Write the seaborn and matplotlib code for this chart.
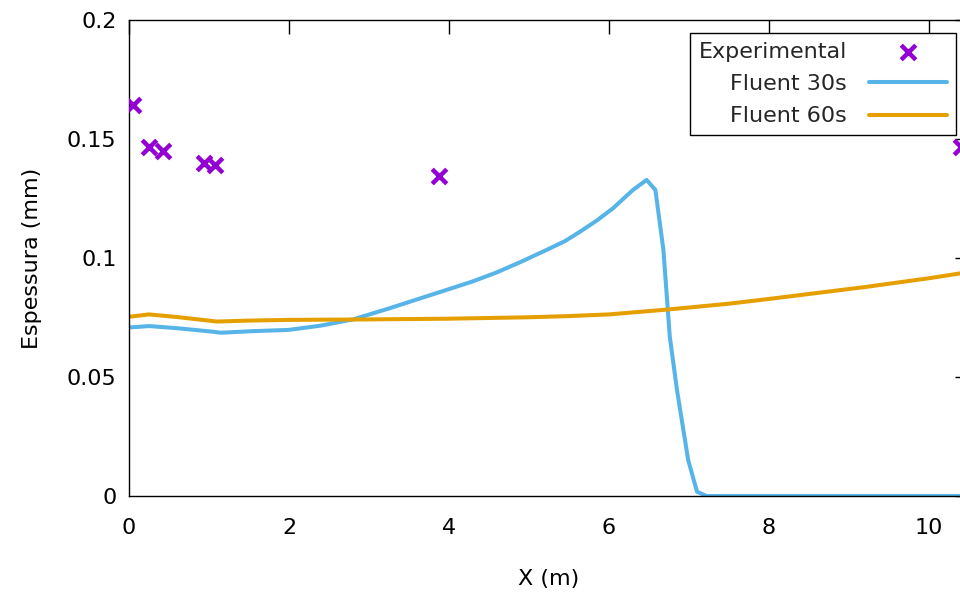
import matplotlib
matplotlib.use("Agg")
import matplotlib.pyplot as plt
import seaborn as sns

# experimental points
exp_x = [0.05, 0.25, 0.43, 0.94, 1.07, 3.87, 10.4]
exp_y = [0.1643, 0.1468, 0.1448, 0.1399, 0.1389, 0.1343, 0.1466]

# Fluent 30s
f30_x = [0.0, 0.25, 0.6, 1.0, 1.15, 1.5, 2.0, 2.4, 2.8, 3.26, 3.6, 3.97, 4.3,
         4.6, 4.9, 5.22, 5.45, 5.64, 5.85, 6.05, 6.3, 6.47, 6.58, 6.68, 6.76,
         6.85, 6.99, 7.1, 7.22, 8.0, 9.0, 10.0, 10.5]
f30_y = [0.0708, 0.0714, 0.0705, 0.0692, 0.0686, 0.0692, 0.0698, 0.0716, 0.0742,
         0.0789, 0.0826, 0.0866, 0.0902, 0.0940, 0.0984, 0.1034, 0.1071, 0.1111,
         0.1158, 0.1209, 0.1286, 0.1328, 0.1286, 0.1034, 0.0669, 0.0445, 0.0151,
         0.0018, 0.0, 0.0, 0.0, 0.0, 0.0]

# Fluent 60s
f60_x = [0.0, 0.25, 0.6, 1.1, 1.5, 2.0, 3.0, 4.0, 5.0, 5.5, 6.0, 6.75, 7.5, 8.0,
         9.2, 10.0, 10.5]
f60_y = [0.0753, 0.0763, 0.0752, 0.0733, 0.0737, 0.0740, 0.0742, 0.0745, 0.0751,
         0.0756, 0.0763, 0.0784, 0.0808, 0.0828, 0.0878, 0.0915, 0.0941]

xticks = [0, 2, 4, 6, 8, 10]
yticks = [0, 0.05, 0.1, 0.15, 0.2]
ytick_labels = ["0", "0.05", "0.1", "0.15", "0.2"]

sns.set_theme(style="white")
plt.rcParams['font.family'] = ['DejaVu Sans']
plt.rcParams['font.size'] = 16

fig = plt.figure(figsize=(9.6, 5.95), dpi=100)
ax = fig.add_axes([129 / 960, 99 / 595, 840 / 960, 476 / 595])

sns.scatterplot(x=exp_x, y=exp_y, marker='x', s=110, linewidth=3.2,
                color='#9400D3', label='Experimental', ax=ax, zorder=3)
sns.lineplot(x=f30_x, y=f30_y, color='#56B4E9', linewidth=2.9,
             label='Fluent 30s', ax=ax)
sns.lineplot(x=f60_x, y=f60_y, color='#E69F00', linewidth=2.9,
             label='Fluent 60s', ax=ax)

ax.set_xlim(0, 10.5)
ax.set_ylim(0, 0.2)
ax.set_xticks(xticks)
ax.set_xticklabels([str(t) for t in xticks])
ax.set_yticks(yticks)
ax.set_yticklabels(ytick_labels)

for s in ax.spines.values():
    s.set_color('black')
    s.set_linewidth(1.0)

ax.tick_params(axis='both', direction='in', length=10, width=1, color='black',
               labelcolor='black', labelsize=16, top=True, right=True)
ax.tick_params(axis='x', pad=16)
ax.tick_params(axis='y', pad=9)

ax.set_xlabel('X (m)', fontsize=16, color='black', labelpad=22)
ax.set_ylabel('Espessura (mm)', fontsize=16, color='black', labelpad=18)

leg = ax.legend(loc='upper right', bbox_to_anchor=(956 / 960, 1 - 33 / 595),
                bbox_transform=fig.transFigure, borderaxespad=0,
                markerfirst=False, fancybox=False, framealpha=1,
                edgecolor='black', fontsize=16, handlelength=3.5,
                handletextpad=1.0, borderpad=0.4, labelspacing=0.55)
leg.get_frame().set_linewidth(1.0)

fig.savefig('out.png', dpi=100)
